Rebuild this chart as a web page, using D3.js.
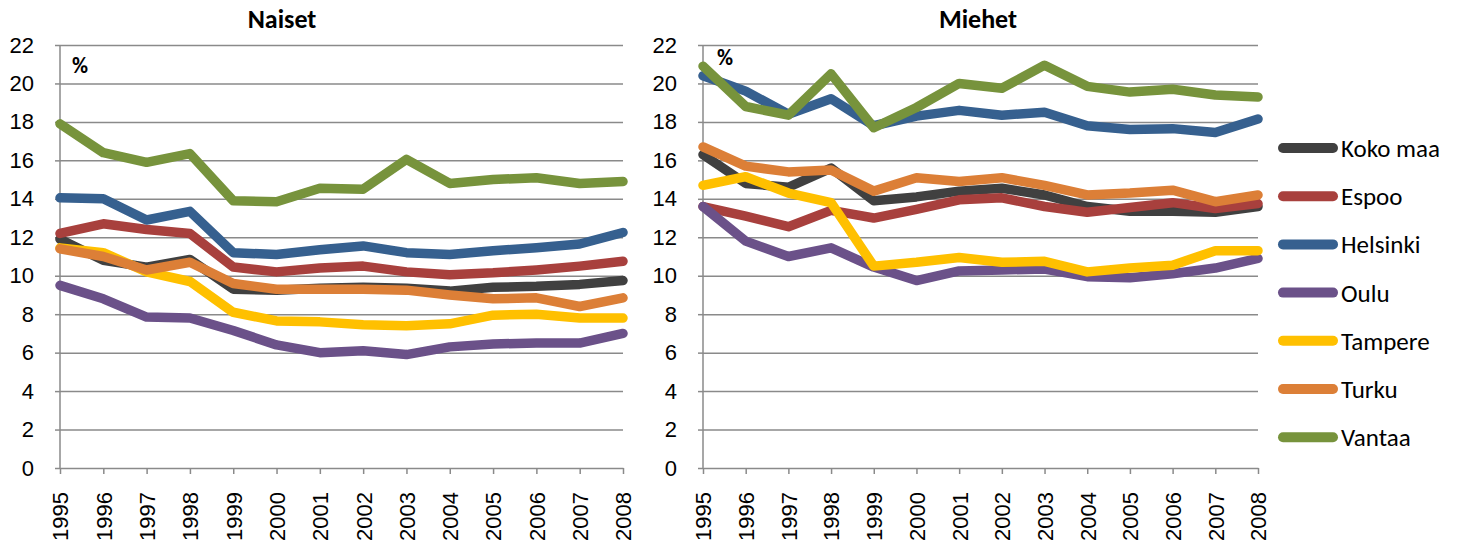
<!DOCTYPE html>
<html>
<head>
<meta charset="utf-8">
<script src="https://cdn.jsdelivr.net/npm/d3@7"></script>
<style>
  body { margin: 0; background: #fff; }
  svg { display: block; font-family: Carlito, Lato, "Open Sans", sans-serif; }
  .grid line { stroke: #8a8a8a; stroke-width: 1.5; }
  .grid path { display: none; }
  .axis path, .axis line { stroke: #8a8a8a; stroke-width: 1.5; }
  .axis text { fill: #000; font-size: 22px; }
</style>
</head>
<body>
<div id="chart"></div>
<script>
const years = d3.range(1995, 2009).map(String);
const yTicks = d3.range(0, 23, 2);
const seriesNames = ['Koko maa', 'Espoo', 'Helsinki', 'Oulu', 'Tampere', 'Turku', 'Vantaa'];
const seriesColors = ['#404040', '#a8403d', '#36608f', '#6b5189', '#ffc000', '#dc7f37', '#77933c'];

// Naiset
const naisetKokoMaa  = [11.9, 10.8, 10.45, 10.85, 9.3, 9.25, 9.35, 9.4, 9.35, 9.2, 9.4, 9.45, 9.55, 9.75];
const naisetEspoo    = [12.2, 12.7, 12.4, 12.2, 10.45, 10.2, 10.4, 10.5, 10.2, 10.05, 10.15, 10.3, 10.5, 10.75];
const naisetHelsinki = [14.05, 14.0, 12.9, 13.35, 11.2, 11.1, 11.35, 11.55, 11.2, 11.1, 11.3, 11.45, 11.65, 12.25];
const naisetOulu     = [9.5, 8.8, 7.85, 7.8, 7.15, 6.4, 6.0, 6.1, 5.9, 6.3, 6.45, 6.5, 6.5, 7.0];
const naisetTampere  = [11.45, 11.2, 10.2, 9.7, 8.1, 7.65, 7.6, 7.45, 7.4, 7.5, 7.95, 8.0, 7.8, 7.8];
const naisetTurku    = [11.4, 11.0, 10.3, 10.7, 9.6, 9.3, 9.3, 9.3, 9.25, 9.0, 8.8, 8.85, 8.4, 8.85];
const naisetVantaa   = [17.9, 16.4, 15.9, 16.35, 13.9, 13.85, 14.55, 14.5, 16.05, 14.8, 15.0, 15.1, 14.8, 14.9];

// Miehet
const miehetKokoMaa  = [16.3, 14.8, 14.6, 15.6, 13.9, 14.1, 14.4, 14.55, 14.2, 13.6, 13.35, 13.35, 13.3, 13.6];
const miehetEspoo    = [13.6, 13.1, 12.55, 13.4, 13.0, 13.45, 13.95, 14.05, 13.6, 13.3, 13.55, 13.8, 13.5, 13.75];
const miehetHelsinki = [20.4, 19.6, 18.4, 19.2, 17.8, 18.3, 18.6, 18.35, 18.5, 17.8, 17.6, 17.65, 17.45, 18.15];
const miehetOulu     = [13.6, 11.8, 11.0, 11.45, 10.45, 9.75, 10.25, 10.3, 10.35, 9.95, 9.9, 10.1, 10.4, 10.9];
const miehetTampere  = [14.7, 15.15, 14.3, 13.8, 10.5, 10.7, 10.95, 10.7, 10.75, 10.2, 10.4, 10.55, 11.3, 11.3];
const miehetTurku    = [16.7, 15.7, 15.4, 15.5, 14.4, 15.1, 14.9, 15.1, 14.7, 14.2, 14.3, 14.45, 13.85, 14.2];
const miehetVantaa   = [20.9, 18.8, 18.35, 20.5, 17.7, 18.75, 20.0, 19.75, 20.95, 19.85, 19.55, 19.7, 19.4, 19.3];

const panels = [
  { title: 'Naiset', left: 60, right: 623, titleX: 282, pct: [72, 73],
    series: [naisetKokoMaa, naisetEspoo, naisetHelsinki, naisetOulu, naisetTampere, naisetTurku, naisetVantaa] },
  { title: 'Miehet', left: 703, right: 1258, titleX: 978, pct: [717, 65],
    series: [miehetKokoMaa, miehetEspoo, miehetHelsinki, miehetOulu, miehetTampere, miehetTurku, miehetVantaa] }
];

const width = 1461, height = 547;
const plotTop = 45, plotBottom = 468;

const svg = d3.select('#chart').append('svg')
  .attr('width', width).attr('height', height);

const yScale = d3.scaleLinear().domain([0, 22]).range([plotBottom, plotTop]);

panels.forEach((p) => {
  const xScale = d3.scalePoint().domain(years).range([p.left, p.right]);
  const g = svg.append('g');

  // gridlines
  g.append('g').attr('class', 'grid')
    .attr('transform', `translate(${p.left},0)`)
    .call(d3.axisLeft(yScale).tickValues(yTicks.filter((d) => d > 0)).tickFormat('').tickSize(-(p.right - p.left)));

  // y axis
  const yAxis = g.append('g').attr('class', 'axis')
    .attr('transform', `translate(${p.left},0)`)
    .call(d3.axisLeft(yScale).tickValues(yTicks).tickSize(5).tickPadding(21));
  yAxis.select('.domain').attr('d', `M0,${plotTop}V${plotBottom}`);

  // x axis
  const xAxis = g.append('g').attr('class', 'axis')
    .attr('transform', `translate(0,${plotBottom})`)
    .call(d3.axisBottom(xScale).tickSize(6).tickSizeOuter(0));
  xAxis.selectAll('text')
    .attr('transform', 'rotate(-90)')
    .attr('text-anchor', 'end')
    .attr('x', -24)
    .attr('y', 0)
    .attr('dy', '0.36em');

  // title
  svg.append('text')
    .attr('x', p.titleX)
    .attr('y', 28)
    .attr('text-anchor', 'middle')
    .attr('font-weight', 'bold')
    .attr('font-size', 26)
    .text(p.title);

  svg.append('text')
    .attr('x', p.pct[0]).attr('y', p.pct[1])
    .attr('font-weight', 'bold')
    .attr('font-size', 22)
    .text('%');

  const line = d3.line().x((d, i) => xScale(years[i])).y((d) => yScale(d));

  g.append('g').selectAll('path')
    .data(p.series)
    .join('path')
    .attr('d', line)
    .attr('fill', 'none')
    .attr('stroke', (d, i) => seriesColors[i])
    .attr('stroke-width', 9.5)
    .attr('stroke-linejoin', 'round')
    .attr('stroke-linecap', 'round');
});

// legend
const legend = svg.append('g').attr('transform', 'translate(1283,148)');
const items = legend.selectAll('g')
  .data(seriesNames)
  .join('g')
  .attr('transform', (d, i) => `translate(0,${i * 48.2})`);
items.append('line')
  .attr('x1', 0).attr('x2', 50)
  .attr('stroke', (d, i) => seriesColors[i])
  .attr('stroke-width', 10)
  .attr('stroke-linecap', 'round');
items.append('text')
  .attr('x', 58).attr('dy', '0.36em')
  .attr('font-size', 25)
  .text((d) => d);
</script>
</body>
</html>
